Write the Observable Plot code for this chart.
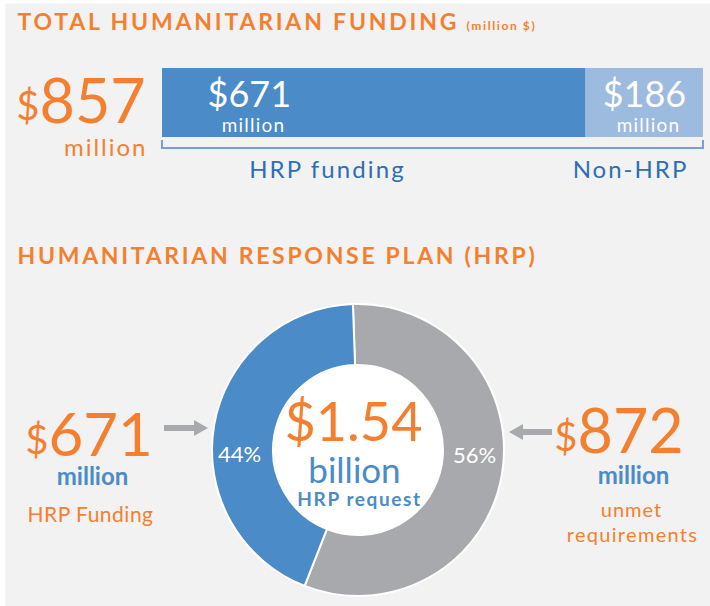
<!DOCTYPE html>
<html>
<head>
<meta charset="utf-8">
<script src="https://cdn.jsdelivr.net/npm/d3@7"></script>
<script src="https://cdn.jsdelivr.net/npm/@observablehq/plot@0.6"></script>
<style>
  html, body { margin: 0; padding: 0; background: #ffffff; }
  #chart svg { display: block; }
</style>
</head>
<body>
<div id="chart"></div>
<script>
// ---- data ----
const fundingTypes = ["HRP funding", "Non-HRP"];
const fundingValues = [671, 186];            // million $
const fundingLabels = ["$671", "$186"];
const planParts = ["Unmet requirements", "HRP funding"];
const planValues = [872, 671];               // million $
const planPercentLabels = ["56%", "44%"];
const totalFundingLabel = "857";
const requestLabel = "$1.54";

// ---- styles ----
const ORANGE = "#f4802f";
const BLUE = "#4a8bc8";
const LIGHTBLUE = "#9dbadf";
const DARKBLUE = "#2f6db5";
const GRAY = "#a7a9ac";
const FONT = "Lato, 'Open Sans', sans-serif";

const funding = fundingTypes.map((t, i) => ({type: t, value: fundingValues[i], label: fundingLabels[i]}));
const plan = planParts.map((p, i) => ({part: p, value: planValues[i], pct: planPercentLabels[i]}));

// helper: a positioned text label (letter-spacing applied after render, in mark order)
const spacings = [];
function label(str, x, y, o = {}) {
  spacings.push(o.ls || 0);
  return Plot.text([str], {
    text: d => d,
    frameAnchor: "top-left",
    dx: x, dy: y,
    lineAnchor: "bottom",
    textAnchor: o.anchor || "start",
    fontSize: o.size || 16,
    fontWeight: o.weight || 400,
    fill: o.fill || ORANGE,
    fontFamily: FONT
  });
}

// donut, arrows drawn from data through d3 shapes
const donutCenter = [358, 450];
const rInner = 85, rOuter = 146;
function donutMark(index, scales, values, dimensions) {
  const g = d3.create("svg:g");
  const rot = -2 * Math.PI / 180;
  const pie = d3.pie().value(d => d.value).sort(null).startAngle(rot).endAngle(rot + 2 * Math.PI);
  const arc = d3.arc().innerRadius(rInner).outerRadius(rOuter);
  const color = d3.scaleOrdinal().domain(["Unmet requirements", "HRP funding"]).range([GRAY, BLUE]);
  const arcs = pie(plan);
  const gg = g.append("g").attr("transform", `translate(${donutCenter[0]},${donutCenter[1]})`);
  gg.selectAll("path.seg").data(arcs).join("path")
    .attr("d", arc)
    .attr("fill", d => color(d.data.part))
    .attr("stroke", "#ffffff")
    .attr("stroke-width", 2);
  gg.append("circle").attr("r", rInner - 1).attr("fill", "#ffffff");
  // arrows
  const arrows = [
    {x1: 164, x2: 208, y: 428},
    {x1: 552, x2: 509, y: 432}
  ];
  for (const a of arrows) {
    const dir = Math.sign(a.x2 - a.x1);
    const head = 14;
    g.append("line")
      .attr("x1", a.x1).attr("x2", a.x2 - dir * head + dir * 1)
      .attr("y1", a.y).attr("y2", a.y)
      .attr("stroke", GRAY).attr("stroke-width", 6);
    g.append("path")
      .attr("d", `M${a.x2},${a.y}L${a.x2 - dir * head},${a.y - 8}L${a.x2 - dir * head},${a.y + 8}Z`)
      .attr("fill", GRAY);
  }
  return g.node();
}

function bracketMark(index, scales) {
  const x = scales.x;
  const total = d3.sum(fundingValues);
  const x0 = x(0), x1 = x(total);
  const yLine = 148, yTop = 140;
  return d3.create("svg:path")
    .attr("d", `M${x0},${yTop}V${yLine}H${x1}V${yTop}`)
    .attr("fill", "none")
    .attr("stroke", "#74a0d4")
    .attr("stroke-width", 2)
    .node();
}

const chart = Plot.plot({
  width: 710,
  height: 606,
  margin: 0,
  style: {fontFamily: FONT, background: "transparent", overflow: "visible"},
  x: {domain: [0, d3.sum(fundingValues)], range: [162, 703], axis: null},
  y: {type: "band", domain: ["Total"], range: [68, 137], padding: 0, axis: null},
  color: {domain: fundingTypes, range: [BLUE, LIGHTBLUE]},
  marks: [
    Plot.frame({fill: "#f2f2f2", stroke: null, insetLeft: 5, insetTop: 3}),
    // titles
    label("TOTAL HUMANITARIAN FUNDING", 17, 29, {size: 23, weight: 700, ls: 2.8}),
    label("(million $)", 466, 29, {size: 12, weight: 700, ls: 1.6}),
    label("HUMANITARIAN RESPONSE PLAN (HRP)", 17, 263, {size: 23, weight: 700, ls: 2.7}),
    // total funding
    label("$", 39, 119, {size: 40, anchor: "end"}),
    label(totalFundingLabel, 39, 122, {size: 61}),
    label("million", 147, 155, {size: 24, anchor: "end", ls: 2}),
    // stacked bar
    Plot.barX(funding, {x: "value", y: () => "Total", fill: "type"}),
    label(fundingLabels[0], 207, 106, {size: 36, fill: "#ffffff"}),
    label("million", 253, 131, {size: 19, fill: "#ffffff", anchor: "middle", ls: 1.2}),
    label(fundingLabels[1], 644, 106, {size: 36, fill: "#ffffff", anchor: "middle"}),
    label("million", 648, 131, {size: 19, fill: "#ffffff", anchor: "middle", ls: 1.2}),
    bracketMark,
    label("HRP funding", 327, 177, {size: 24, fill: DARKBLUE, anchor: "middle", ls: 2.1}),
    label("Non-HRP", 630, 177, {size: 24, fill: DARKBLUE, anchor: "middle", ls: 2}),
    // donut
    donutMark,
    label(requestLabel, 353, 440, {size: 54, anchor: "middle"}),
    label("billion", 354, 482, {size: 35, fill: BLUE, anchor: "middle"}),
    label("HRP request", 359, 505, {size: 19, weight: 700, fill: BLUE, anchor: "middle", ls: 1.6}),
    label(planPercentLabels[1], 239, 461, {size: 22, fill: "#ffffff", anchor: "middle"}),
    label(planPercentLabels[0], 474, 462, {size: 22, fill: "#ffffff", anchor: "middle"}),
    // left callout
    label("$", 48, 453, {size: 40, anchor: "end"}),
    label("671", 48, 455, {size: 60}),
    label("million", 92, 484, {size: 24, weight: 700, fill: BLUE, anchor: "middle"}),
    label("HRP Funding", 90, 521, {size: 21, anchor: "middle", ls: 0.5}),
    // right callout
    label("$", 577, 450, {size: 40, anchor: "end"}),
    label("872", 577, 452, {size: 61}),
    label("million", 633, 483, {size: 24, weight: 700, fill: BLUE, anchor: "middle"}),
    label("unmet", 631, 516, {size: 20, anchor: "middle", ls: 1}),
    label("requirements", 632, 541, {size: 20, anchor: "middle", ls: 1.3})
  ]
});
d3.select(chart).selectAll('g[aria-label="text"]').each(function(d, i) {
  if (spacings[i]) this.setAttribute("letter-spacing", spacings[i]);
});
document.getElementById("chart").appendChild(chart);
</script>
</body>
</html>
